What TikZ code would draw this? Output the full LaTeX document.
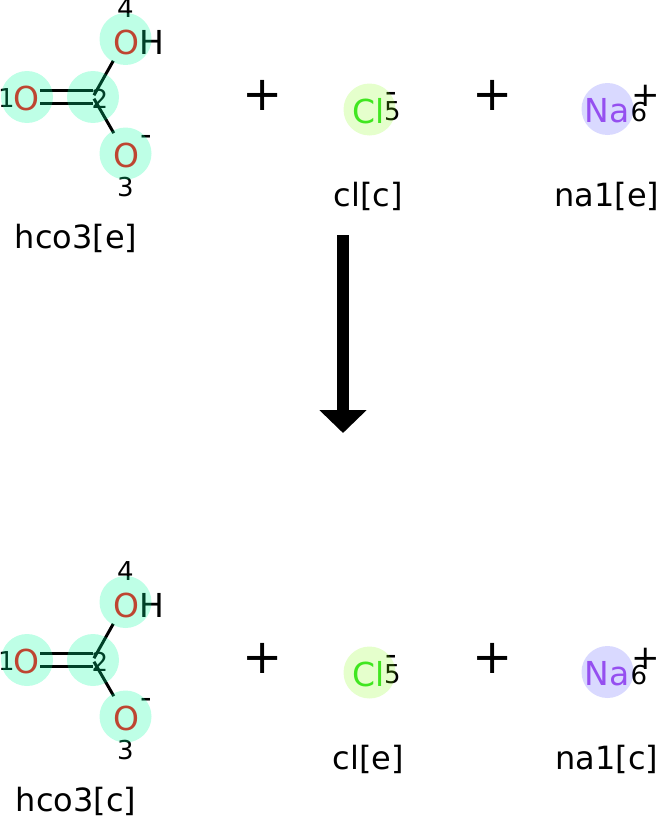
\documentclass[tikz,border=0pt]{standalone}
\usepackage{fontspec}
\setmainfont{DejaVu Sans}
\usetikzlibrary{arrows.meta}
\definecolor{cO}{RGB}{0,255,157}
\definecolor{cCl}{RGB}{127,255,0}
\definecolor{cNa}{RGB}{0,0,255}
\definecolor{tO}{RGB}{255,6,13}
\definecolor{tCl}{RGB}{49,224,40}
\definecolor{tNa}{RGB}{176,94,238}
\newcommand\fbig{\fontsize{32}{38}\selectfont}
\newcommand\fatom{\fontsize{33}{39}\selectfont}
\newcommand\fsmall{\fontsize{26}{30}\selectfont}
\newcommand\fplus{\fontsize{48}{56}\selectfont}
\newcommand\fchg{\fontsize{32}{38}\selectfont}
\newcommand\fchgp{\fontsize{34}{40}\selectfont}
\tikzset{
  txt/.style={inner sep=0pt, font=\fbig},
  atxt/.style={inner sep=0pt, font=\fatom},
  num/.style={inner sep=0pt, font=\fsmall},
  otxt/.style={atxt, text=tO},
  cltxt/.style={atxt, text=tCl},
  natxt/.style={atxt, text=tNa},
  chg/.style={inner sep=0pt, font=\fchg, anchor=base},
  chgp/.style={inner sep=0pt, font=\fchgp},
  rplus/.style={inner sep=0pt, font=\fplus},
  bond/.style={line width=3pt},
  ball/.style={circle, inner sep=0pt, minimum size=52pt},
  oball/.style={ball, fill=cO, fill opacity=0.255},
  clball/.style={ball, fill=cCl, fill opacity=0.2},
  naball/.style={ball, fill=cNa, fill opacity=0.15},
}
\newcommand\reactrow[4]{%
  % atom positions
  \coordinate (#1a1) at (27,97);
  \coordinate (#1a2) at (93,97);
  \coordinate (#1a4) at (125.5,39);
  \coordinate (#1a3) at (125.5,153.5);
  % bonds
  \draw[bond, shorten <=13pt] ([yshift=6.25pt]#1a1) -- ([yshift=6.25pt]#1a2);
  \draw[bond, shorten <=13pt] ([yshift=-6.25pt]#1a1) -- ([yshift=-6.25pt]#1a2);
  \draw[bond, shorten <=2pt, shorten >=25pt] (#1a2) -- (#1a4);
  \draw[bond, shorten <=2pt, shorten >=23.5pt] (#1a2) -- (#1a3);
  % texts of hco3
  \node[otxt] (#1o1) at (26,98) {O};
  \node[num] (#1n1) at (6.5,98) {1};
  \node[num] (#1n2) at (100,99) {2};
  \node[otxt] (#1o4) at (126.5,42) {O};
  \node[atxt, anchor=west] (#1h4) at (#1o4.east) {H};
  \node[num] (#1n4) at (125.5,8.5) {4};
  \node[otxt] (#1o3) at (126,155) {O};
  \node[chg] (#1m3) at (146,145) {-};
  \node[num] (#1n3) at (125.5,187.5) {3};
  \node[txt] (#1l1) at (76,238) {#2};
  % plus signs
  \node[rplus] (#1p1) at (263,95) {+};
  \node[rplus] (#1p2) at (493,95) {+};
  % Cl
  \node[cltxt] (#1cl) at (369,111) {Cl};
  \node[num] (#1n5) at (392.5,111.5) {5};
  \node[chg] (#1m5) at (391.5,102.5) {-};
  \node[txt] (#1l2) at (368.5,196) {#3};
  % Na
  \node[natxt] (#1na) at (607,111) {Na};
  \node[num] (#1n6) at (639,112.5) {6};
  \node[chgp] (#1p6) at (646,96) {+};
  \node[txt] (#1l3) at (607,196) {#4};
  % translucent atom discs on top
  \node[oball] (#1b1) at (#1a1) {};
  \node[oball] (#1b2) at (#1a2) {};
  \node[oball] (#1b4) at (#1a4) {};
  \node[oball] (#1b3) at (#1a3) {};
  \node[clball] (#1b5) at (369.5,109.5) {};
  \node[naball] (#1b6) at (607.5,109) {};
}
\begin{document}
\begin{tikzpicture}[x=1pt, y=-1pt]
  \useasboundingbox (0,0) rectangle (659,816);
  \begin{scope}
    \reactrow{t}{hco3[e]}{cl[c]}{na1[e]}
  \end{scope}
  \begin{scope}[shift={(0,563)}]
    \reactrow{b}{hco3[c]}{cl[e]}{na1[c]}
  \end{scope}
  \coordinate (arrowtop) at (343,235);
  \coordinate (arrowtip) at (343,433);
  \draw[line width=12pt, -{Triangle[length=23pt, width=46pt]}] (arrowtop) -- (arrowtip);
\end{tikzpicture}
\end{document}
